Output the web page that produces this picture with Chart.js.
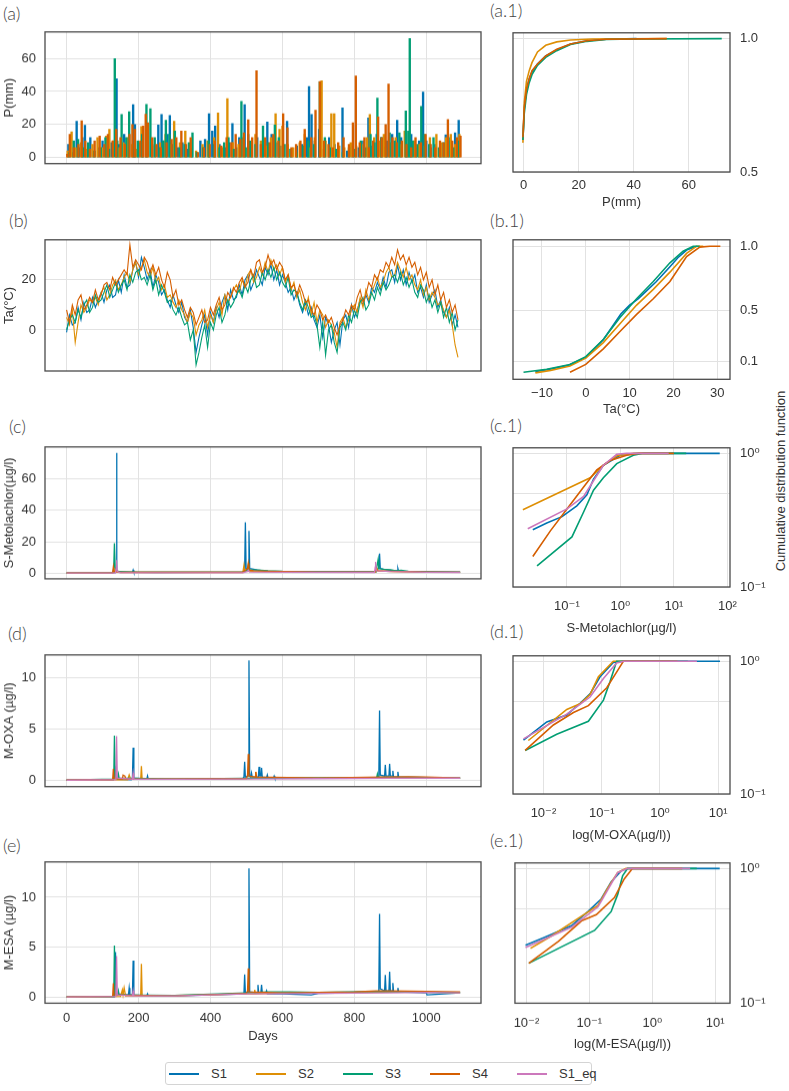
<!DOCTYPE html>
<html lang="en">
<head>
<meta charset="UTF-8">
<title>Sites S1-S4: forcing, concentrations and CDFs</title>
<script src="https://cdn.jsdelivr.net/npm/chart.js@4.4.0/dist/chart.umd.min.js"></script>
<style>
    body { margin: 0; width: 789px; height: 1091px; background: #fff; position: relative; overflow: hidden;
           font-family: 'Liberation Sans', Arial, sans-serif; color: #333; }
    .box { position: absolute; }
    .tag { position: absolute; font-family: Lato, 'Open Sans', sans-serif; font-weight: 300; font-size: 18px;
           line-height: 20px; color: #444; white-space: nowrap; }
    #cdf-title { position: absolute; left: 780px; top: 481px; transform: translate(-50%, -50%) rotate(-90deg);
                 white-space: nowrap; font-size: 13px; }
    #legend { position: absolute; left: 165px; top: 1062px; width: 427px; height: 23px; box-sizing: border-box;
              border: 1px solid #d4d4d4; border-radius: 3px; }
    .lg-item { position: absolute; top: 0; height: 21px; display: flex; align-items: center; font-size: 13px; }
    .lg-line { width: 30px; height: 2px; margin-right: 12px; }
</style>
</head>
<body>
<div class="tag" style="left:3px;top:3px">(a)</div>
<div class="tag" style="left:9px;top:210px">(b)</div>
<div class="tag" style="left:9px;top:416px">(c)</div>
<div class="tag" style="left:8px;top:623px">(d)</div>
<div class="tag" style="left:3px;top:835px">(e)</div>
<div class="tag" style="left:490px;top:0px">(a.1)</div>
<div class="tag" style="left:490px;top:210px">(b.1)</div>
<div class="tag" style="left:490px;top:415px">(c.1)</div>
<div class="tag" style="left:490px;top:621px">(d.1)</div>
<div class="tag" style="left:490px;top:830px">(e.1)</div>
<div id="cdf-title">Cumulative distribution function</div>
<div id="legend"></div>

<script>
// ---------------- data ----------------
const SERIES = ['S1', 'S2', 'S3', 'S4', 'S1_eq'];
const COLORS = ['#0173b2', '#de8f05', '#029e73', '#d55e00', '#cc78bc'];
const DAY_TICKS = [0, 200, 400, 600, 800, 1000];

// (a) daily precipitation, [day, mm] for the rainy days
const P_S1 = [[5,8],[18,3],[28,22],[35,6],[44,12],[51,19.5],[58,5],[66,12],[75,4],[88,6],[100,10],[112,7],[125,9],
    [139,47.6],[146,8],[160,14],[172,6],[185,32],[190,20],[200,9],[212,12],[222,21],[238,8],[255,19.6],[264,26],
    [270,10],[280,14],[287,25.4],[296,8],[310,6],[322,9],[335,5],[348,4],[372,10],[385,11],[396,26.5],[405,16],
    [413,19],[425,8],[440,6],[452,9],[461,20.6],[472,6],[480,12],[495,32],[505,14],[515,8],[530,12],[545,6],
    [558,21.5],[570,14],[583,9],[595,7],[613,22],[625,5],[640,7],[655,8],[668,12],[674,43],[681,26],[690,10],
    [702,17],[715,5],[730,12],[745,8],[756,6],[767,30],[780,4],[795,8],[812,6],[825,10],[839,24],[850,7],[862,14],
    [875,12],[890,10],[905,14],[919,22.5],[930,12],[945,8],[958,14],[970,6],[980,10],[991,39.6],[1000,10],
    [1012,6],[1025,8],[1040,5],[1054,13.8],[1068,10],[1080,15],[1090,22.5]];
const P_S2 = [[3,4],[14,15.6],[25,6],[40,9],[55,5],[72,8],[86,12],[98,6],[110,13],[119,17],[130,10],[145,6],
    [158,9],[170,12],[182,8],[195,5],[208,18.8],[225,10],[245,7],[260,9],[275,14],[290,8],[299,22],[315,9],
    [330,16],[345,6],[360,4],[378,8],[392,10],[410,12],[421,27],[435,6],[447,35.6],[462,9],[478,8],[490,12],
    [512,9],[525,14],[540,10],[555,7],[568,12],[581,26.5],[592,17],[600,19],[615,8],[630,6],[648,9],[662,14],
    [675,6],[690,12],[709,46.5],[720,10],[736,26.5],[744,26.5],[758,7],[772,6],[790,9],[805,7],[820,8],[835,12],
    [843,26],[855,12],[870,10],[882,14],[900,9],[915,12],[928,8],[940,16],[952,6],[966,10],[980,8],[995,7],
    [1010,12],[1028,14],[1042,9],[1055,12],[1068,14],[1080,8],[1092,14]];
const P_S3 = [[8,3],[20,10],[32,11],[45,6],[60,9],[78,4],[95,6],[108,12],[118,5],[134,59.8],[141,10],[153,26],
    [166,12],[174,27.8],[188,8],[198,10],[210,14],[222,32.2],[233,29.5],[245,12],[258,6],[268,10],[276,22.6],
    [286,14],[301,16],[315,6],[328,8],[340,9],[350,15],[362,3],[380,6],[395,10],[410,8],[425,6],[438,9],[450,12],
    [465,5],[486,34],[498,6],[510,10],[525,8],[546,19],[560,9],[579,19.7],[590,12],[606,8],[622,5],[640,3],
    [658,7],[672,10],[688,8],[704,45.8],[718,12],[732,6],[750,5],[768,3],[785,6],[800,5],[818,10],[830,6],
    [845,14],[856,9],[864,36],[875,12],[888,6],[898,15],[912,10],[925,15],[943,28.2],[950,16],[954,72],[962,10],
    [975,8],[986,31],[995,14],[1008,8],[1020,12],[1035,6],[1048,9],[1062,12],[1075,6],[1088,10]];
const P_S4 = [[2,2],[9,14],[20,6],[33,8],[42,22.2],[52,10],[65,5],[78,10],[92,13],[105,8],[115,14],[128,10],
    [138,17],[150,12],[162,8],[175,14],[183,20],[190,17],[205,10],[213,19],[220,26.2],[226,21],[238,12],[250,8],
    [262,6],[278,9],[292,11],[305,12],[319,16],[332,8],[345,12],[365,3],[382,6],[398,8],[412,10],[430,7],[445,12],
    [458,9],[470,14],[483,11],[493,15],[505,22.8],[516,12],[528,52.5],[540,8],[552,12],[565,9],[575,14],[589,10],
    [602,26.5],[614,18],[625,6],[638,8],[650,10],[662,17],[680,12],[692,28.7],[704,46],[716,10],[728,8],[740,6],
    [755,9],[770,12],[785,8],[796,21],[804,49.4],[815,9],[828,12],[840,6],[852,10],[866,24.5],[876,12],[887,20],
    [895,44.5],[906,12],[918,9],[932,10],[945,8],[958,6],[970,12],[985,9],[998,14],[1012,8],[1025,6],[1038,10],
    [1048,9],[1060,23],[1072,10],[1085,12],[1095,13]];

// (b) air temperature (deg C), one reading every TA_STEP days from day 0
const TA_STEP = 8;
const TA_S1 = [-1,6,2,3,9,4,11,7,8,13, 9,12,15,11,16,18,13,14,20,15, 22,17,18,24,27,21,29,25,20,24,
    17,22,19,14,16,12,9,14,10,7, 11,5,3,8,1,-9,-3,2,6,-2, 7,3,9,5,11,14,8,16,12,13,
    18,14,20,22,16,19,24,21,18,25, 22,26,20,24,18,22,19,15,17,12, 15,10,7,11,6,9,4,1,6,-3,
    5,2,-5,0,3,-6,4,6,1,10, 5,8,12,10,14,11,17,15,19,16, 21,17,23,24,19,26,20,24,18,23,
    19,22,15,17,13,18,11,14,16,9, 12,7,5,9,2,6,1];
const TA_S2 = [5,2,8,-5,3,10,7,9,12,11, 13,10,15,17,12,14,18,20,16,18, 21,23,19,24,27,22,25,28,23,21,
    25,19,21,16,18,13,14,11,9,12, 8,6,3,7,5,-2,2,4,8,1, 6,3,8,11,6,14,11,13,16,18,
    15,20,17,22,24,19,21,25,22,27, 23,28,24,26,22,25,19,22,16,19, 13,16,11,8,13,6,11,3,8,6,
    1,4,2,-1,-7,3,5,1,4,8, 10,7,13,9,16,12,15,18,21,17, 19,23,25,21,22,27,24,21,25,20,
    22,18,16,20,14,17,12,15,13,10, 11,8,5,8,2,-6,-11];
const TA_S3 = [0,4,6,3,8,5,10,12,7,9, 14,11,12,15,18,13,16,19,15,18, 20,16,22,19,23,24,20,21,18,22,
    16,20,14,18,15,11,12,8,6,9, 5,2,3,-4,0,-14,-9,-3,2,-7, 3,0,6,9,3,6,12,9,11,14,
    16,13,18,15,20,22,17,18,23,20, 24,21,25,20,23,19,17,21,14,16, 15,11,8,12,9,5,6,2,-7,3,
    -10,0,2,-5,-9,1,3,0,6,3, 8,5,11,13,8,10,15,12,17,14, 19,16,18,21,22,19,23,18,21,17,
    20,15,13,18,16,11,14,9,12,7, 11,5,9,3,7,0,4];
const TA_S4 = [8,3,10,6,12,14,8,10,13,11, 16,12,14,18,19,16,21,18,20,22, 24,22,34,25,28,26,24,29,27,23,
    26,22,25,20,17,23,20,13,16,10, 12,8,5,9,7,2,5,8,3,4, 9,6,10,13,8,10,15,13,17,15,
    19,21,17,19,24,21,27,28,23,25, 30,26,28,24,27,25,20,22,17,18, 14,18,15,11,12,8,6,10,8,4,
    6,3,5,1,-2,2,4,8,6,10, 8,13,16,11,14,19,17,22,20,24, 23,27,25,29,26,32,28,30,26,29,
    25,27,22,25,20,23,17,20,14,18, 12,15,9,12,7,10,4];

// (c) S-metolachlor, [day, ug/l]
const SMET_S1 = [[0,0.1],[128,0.1],[136,0.5],[138,2],[139,76.6],[140,1.5],[142,1],[150,0.8],[183,0.6],[185,2],
    [187,0.6],[250,0.5],[400,0.6],[490,0.8],[495,2],[497,32.3],[499,3],[505,2.5],[507,27],[509,3],[520,2.5],
    [530,2],[560,1.2],[600,1],[700,0.8],[860,0.7],[866,3],[868,6],[870,12.5],[872,3],[890,2],[919,1.5],[921,3],
    [923,1.2],[960,1],[1000,0.8],[1094,0.6]];
const SMET_S2 = [[0,0.05],[128,0.1],[132,1],[134,3],[136,0.8],[150,0.5],[300,0.5],[490,0.5],[493,5],[495,1.5],
    [520,1],[600,0.8],[860,0.8],[863,3],[866,1.5],[900,1],[1000,0.8],[1094,0.6]];
const SMET_S3 = [[0,0.1],[128,0.1],[131,3],[133,19],[135,4],[138,2],[145,1],[200,0.6],[490,0.6],[503,2],[505,5],
    [507,2],[530,2],[560,1.5],[600,1.2],[700,1],[860,1],[864,6],[866,8.7],[868,3],[880,2.5],[900,2.2],[915,1.5],
    [930,1.8],[950,1.2],[1000,1],[1094,0.8]];
const SMET_S4 = [[0,0.1],[128,0.1],[130,4],[132,1],[150,0.6],[490,0.6],[503,3],[505,6.2],[507,2],[520,1.5],
    [560,1.2],[700,0.8],[858,0.8],[861,3],[864,1.5],[900,1.2],[1000,0.8],[1094,0.6]];
const SMET_S1EQ = [[0,0.1],[136,0.1],[138,4],[139,8.3],[141,1],[150,0.3],[490,0.3],[503,1],[505,2],[508,0.8],
    [600,0.6],[856,0.5],[858,4],[859,7.2],[861,1.5],[900,1],[1000,0.6],[1094,0.5]];

// (d) M-OXA, [day, ug/l]
const OXA_S1 = [[0,0],[130,0],[135,1],[137,0.1],[180,0.05],[183,0.2],[185,3.16],[187,0.2],[223,0.1],[225,0.4],
    [227,0.1],[300,0.1],[400,0.12],[490,0.15],[493,0.3],[495,1.8],[497,0.3],[505,0.4],[507,11.67],[509,0.4],
    [512,0.3],[514,0.7],[516,0.3],[533,0.3],[535,1.3],[537,0.4],[540,0.4],[542,1.2],[544,0.3],[556,0.25],
    [558,0.5],[560,0.2],[575,0.2],[577,0.4],[579,0.2],[700,0.2],[866,0.22],[868,0.5],[870,6.78],[872,0.5],
    [884,0.4],[886,1.5],[888,0.4],[896,0.4],[898,1.6],[900,0.4],[905,0.4],[907,0.9],[909,0.3],[919,0.3],[921,0.8],
    [923,0.3],[1000,0.25],[1094,0.2]];
const OXA_S2 = [[0,0],[170,0.05],[174,0.5],[178,0.1],[206,0.1],[208,1.38],[210,0.1],[300,0.1],[500,0.15],
    [524,0.2],[526,0.8],[528,0.2],[700,0.2],[900,0.25],[1094,0.22]];
const OXA_S3 = [[0,0],[131,0.1],[133,4.34],[135,0.3],[142,0.2],[144,0.6],[146,0.2],[300,0.1],[500,0.18],
    [600,0.2],[700,0.2],[862,0.25],[864,0.6],[866,0.3],[1000,0.25],[1094,0.2]];
const OXA_S4 = [[0,0],[128,0.05],[130,1.1],[132,0.2],[155,0.1],[157,0.5],[162,0.4],[165,0.1],[300,0.1],
    [500,0.15],[503,0.5],[505,2.56],[507,0.4],[524,0.3],[526,0.8],[528,0.3],[700,0.22],[880,0.3],[950,0.32],
    [1000,0.3],[1094,0.22]];
const OXA_S1EQ = [[0,0],[137,0.05],[139,4.3],[141,0.2],[183,0.1],[185,0.7],[187,0.1],[300,0.08],[500,0.12],
    [700,0.15],[900,0.18],[1094,0.2]];

// (e) M-ESA, [day, ug/l]
const ESA_S1 = [[0,0],[133,0],[136,4.5],[138,0.3],[172,0.2],[174,0.9],[176,0.2],[183,0.2],[185,3.64],[187,0.2],
    [223,0.1],[225,0.3],[227,0.1],[300,0.1],[400,0.2],[493,0.3],[495,2.25],[497,0.4],[505,0.5],[507,12.9],
    [509,0.5],[530,0.4],[532,1.2],[534,0.4],[540,0.4],[542,1.2],[544,0.4],[554,0.4],[556,0.6],[558,0.3],
    [600,0.3],[680,0.2],[700,0.35],[800,0.4],[866,0.5],[868,0.8],[870,8.32],[872,0.8],[884,0.6],[886,2.2],
    [888,0.6],[896,0.6],[898,2.53],[900,0.6],[905,0.6],[907,1.4],[909,0.5],[919,0.5],[921,0.9],[923,0.5],
    [1000,0.4],[1002,0.2],[1094,0.4]];
const ESA_S2 = [[0,0],[150,0.05],[155,0.7],[157,0.2],[160,0.9],[164,0.1],[206,0.1],[208,3.32],[210,0.1],
    [300,0.15],[500,0.3],[521,0.3],[523,0.7],[525,0.3],[600,0.4],[800,0.45],[1000,0.5],[1094,0.4]];
const ESA_S3 = [[0,0],[131,0.05],[133,5.16],[135,0.3],[142,0.2],[144,0.6],[146,0.2],[300,0.15],[500,0.4],
    [560,0.5],[620,0.5],[700,0.45],[860,0.55],[1000,0.45],[1094,0.45]];
const ESA_S4 = [[0,0],[128,0.05],[130,1.36],[132,0.2],[300,0.1],[500,0.35],[503,0.6],[505,2.85],[507,0.5],
    [600,0.4],[800,0.5],[860,0.6],[900,0.6],[1000,0.55],[1094,0.5]];
const ESA_S1EQ = [[0,0],[137,0.05],[139,4.1],[141,0.2],[183,0.1],[185,0.6],[187,0.1],[300,0.1],[500,0.3],
    [700,0.35],[900,0.4],[1000,0.45],[1094,0.4]];

// right column: empirical CDFs, [value, F]
const CDF_P_S1 = [[-0.3,0.62],[0.2,0.74],[1,0.81],[2,0.85],[3,0.875],[5,0.905],[8,0.935],[12,0.958],[17,0.98],[23,0.992],[30,0.998],[41,1]];
const CDF_P_S2 = [[-0.3,0.61],[0.2,0.76],[1,0.84],[2,0.88],[3,0.91],[5,0.95],[8,0.975],[12,0.988],[17,0.995],[25,0.999],[52,1]];
const CDF_P_S3 = [[-0.3,0.62],[0.2,0.72],[1,0.79],[2,0.835],[3,0.865],[5,0.9],[8,0.93],[12,0.955],[17,0.978],[23,0.99],[30,0.997],[40,0.999],[72,1]];
const CDF_P_S4 = [[-0.3,0.63],[0.2,0.74],[1,0.81],[2,0.85],[3,0.88],[5,0.905],[8,0.935],[12,0.96],[17,0.98],[23,0.992],[30,0.998],[52,1]];

const CDF_TA_S1 = [[-11.5,0.02],[-8,0.04],[-4,0.07],[0,0.13],[4,0.27],[8,0.47],[10,0.54],[12,0.59],[16,0.72],[19.2,0.84],[21,0.91],[23,0.97],[25.3,1]];
const CDF_TA_S2 = [[-11.5,0.01],[-8,0.03],[-3.6,0.064],[0,0.125],[4,0.247],[7.8,0.394],[11.6,0.54],[15.4,0.663],[19.2,0.797],[23,0.944],[25.3,1],[26.8,1]];
const CDF_TA_S3 = [[-14.2,0.015],[-8.9,0.039],[-3.6,0.076],[0,0.137],[4,0.271],[7.8,0.443],[11.6,0.589],[15.4,0.724],[19.2,0.87],[22.2,0.961],[24.5,1],[26,1]];
const CDF_TA_S4 = [[-3.6,0.015],[0,0.076],[4,0.198],[7.8,0.333],[11.6,0.467],[15.4,0.589],[19.2,0.724],[23,0.919],[26,0.993],[28.3,1],[30.7,1]];

const CDF_SMET_S1 = [[0.023,0.268],[0.042,0.301],[0.081,0.336],[0.153,0.405],[0.236,0.489],[0.314,0.64],[0.48,0.815],[0.99,0.968],[2,1],[72,1]];
const CDF_SMET_S2 = [[0.015,0.378],[0.272,0.657],[0.48,0.815],[0.855,0.958],[1.74,1],[8,1]];
const CDF_SMET_S3 = [[0.0276,0.144],[0.124,0.237],[0.205,0.364],[0.314,0.53],[0.48,0.657],[0.855,0.838],[1.74,0.968],[2.69,1],[17,1]];
const CDF_SMET_S4 = [[0.023,0.169],[0.049,0.263],[0.1,0.384],[0.205,0.56],[0.362,0.752],[0.641,0.884],[1.31,0.968],[2.3,1],[10,1]];
const CDF_SMET_S1EQ = [[0.0185,0.273],[0.1,0.384],[0.205,0.476],[0.314,0.623],[0.48,0.815],[0.855,0.984],[1.31,1],[8,1]];

const CDF_OXA_S1 = [[0.00454,0.255],[0.0114,0.349],[0.0251,0.394],[0.0425,0.483],[0.063,0.568],[0.0936,0.764],[0.158,0.98],[0.235,1],[10.7,1]];
const CDF_OXA_S2 = [[0.0055,0.253],[0.0251,0.434],[0.0425,0.478],[0.063,0.562],[0.0877,0.764],[0.158,1],[1.5,1]];
const CDF_OXA_S3 = [[0.00485,0.213],[0.0169,0.282],[0.059,0.353],[0.107,0.51],[0.139,0.705],[0.18,1],[3,1]];
const CDF_OXA_S4 = [[0.00485,0.213],[0.0148,0.331],[0.0327,0.411],[0.059,0.463],[0.122,0.632],[0.18,0.828],[0.235,1],[2,1]];
const CDF_OXA_S1EQ = [[0.00454,0.26],[0.0251,0.4],[0.063,0.538],[0.107,0.743],[0.18,0.973],[0.24,1],[4.3,1]];

const CDF_ESA_S1 = [[0.00965,0.269],[0.0224,0.317],[0.052,0.376],[0.0953,0.479],[0.154,0.593],[0.222,0.795],[0.318,0.958],[0.405,1],[11.8,1]];
const CDF_ESA_S2 = [[0.0116,0.255],[0.0253,0.317],[0.0748,0.442],[0.137,0.532],[0.196,0.714],[0.282,0.933],[0.381,1],[3,1]];
const CDF_ESA_S3 = [[0.0109,0.198],[0.121,0.347],[0.222,0.479],[0.282,0.642],[0.338,0.884],[0.405,1],[5.1,1]];
const CDF_ESA_S4 = [[0.0109,0.198],[0.0322,0.288],[0.0748,0.408],[0.129,0.454],[0.25,0.608],[0.359,0.838],[0.485,1],[3,1]];
const CDF_ESA_S1EQ = [[0.00965,0.259],[0.052,0.366],[0.137,0.519],[0.196,0.695],[0.282,0.933],[0.405,1],[4,1]];

// ---------------- drawing ----------------
const GRID = '#e2e2e2';
const TXT = '#333';
const FONT = { family: "'Liberation Sans', 'DejaVu Sans', Arial, sans-serif", size: 13 };
const SUP = { '-': '\u207B', '0': '\u2070', '1': '\u00B9', '2': '\u00B2', '3': '\u00B3' };

function pow10(v) {
    const e = String(Math.round(Math.log10(v)));
    return '10' + e.split('').map(c => SUP[c]).join('');
}
function num(v) { return v < 0 ? '\u2212' + Math.abs(v) : String(v); }

// box round every plot area
const frame = {
    id: 'frame',
    afterDraw(chart) {
        const a = chart.chartArea, ctx = chart.ctx;
        ctx.save();
        ctx.strokeStyle = '#4a4a4a';
        ctx.lineWidth = 1.3;
        ctx.strokeRect(a.left, a.top, a.right - a.left, a.bottom - a.top);
        ctx.restore();
    }
};

function place(left, top, width, height) {
    const div = document.createElement('div');
    div.className = 'box';
    div.style.left = left + 'px';
    div.style.top = top + 'px';
    div.style.width = width + 'px';
    div.style.height = height + 'px';
    const cv = document.createElement('canvas');
    div.appendChild(cv);
    document.body.appendChild(div);
    return cv;
}

function setTicks(values) {
    return s => { s.ticks = values.map(v => ({ value: v })); };
}

function lineSet(i, pts, width) {
    return {
        label: SERIES[i], data: pts.map(p => ({ x: p[0], y: p[1] })),
        borderColor: COLORS[i], backgroundColor: COLORS[i], borderWidth: width,
        pointRadius: 0, tension: 0, order: SERIES.length - i
    };
}

function baseOptions(pad, xs, ys) {
    return {
        animation: false, responsive: true, maintainAspectRatio: false,
        layout: { padding: pad },
        plugins: { legend: { display: false }, tooltip: { enabled: false } },
        scales: { x: xs, y: ys }
    };
}

// left column: time series against days
function timeChart(top, bottom, type, datasets, yMin, yMax, yTicks, yTitle, showDays) {
    const xh = showDays ? 41 : 0;
    const padB = showDays ? 0 : 8;
    const cv = place(0, top - 8, 489, bottom - top + 8 + xh + padB);
    const xs = {
        type: 'linear', min: -60, max: 1152, offset: false,
        grid: { color: GRID, drawTicks: false, offset: false }, border: { display: false },
        ticks: { display: showDays, padding: 7, font: FONT, color: TXT, callback: num },
        afterBuildTicks: setTicks(DAY_TICKS),
        afterFit: s => { s.height = xh; },
        title: { display: showDays, text: 'Days', font: FONT, color: TXT, padding: 0 }
    };
    const ys = {
        type: 'linear', min: yMin, max: yMax,
        grid: { color: GRID, drawTicks: false }, border: { display: false },
        ticks: { padding: 9, font: FONT, color: TXT, callback: num },
        afterBuildTicks: setTicks(yTicks),
        afterFit: s => { s.width = 45; },
        title: { display: true, text: yTitle, font: FONT, color: TXT, padding: { top: 2, bottom: 0 } }
    };
    return new Chart(cv, {
        type: type, data: { datasets: datasets },
        options: baseOptions({ top: 8, right: 8, bottom: padB, left: 0 }, xs, ys),
        plugins: [frame]
    });
}

// right column: CDFs, y axis on the right
function cdfChart(top, bottom, datasets, xc, yc) {
    const xh = xc.log ? 49 : 38;
    const cv = place(501, top - 8, 279, bottom - top + 8 + xh);
    const xs = {
        type: xc.log ? 'logarithmic' : 'linear', min: xc.min, max: xc.max,
        grid: { color: GRID, drawTicks: false }, border: { display: false },
        ticks: { padding: xc.log ? 12 : 6, font: FONT, color: TXT, maxRotation: 0,
                 callback: xc.log ? pow10 : num },
        afterBuildTicks: setTicks(xc.ticks),
        afterFit: s => { s.height = xh; },
        title: { display: true, text: xc.title, font: FONT, color: TXT, padding: 0 }
    };
    const ys = {
        type: yc.log ? 'logarithmic' : 'linear', position: 'right', min: yc.min, max: yc.max,
        grid: { color: GRID, drawTicks: false }, border: { display: false },
        ticks: { padding: 10, font: FONT, color: TXT,
                 callback: yc.log ? (v => v === 0.5 ? '' : pow10(v)) : (v => v.toFixed(1)) },
        afterBuildTicks: setTicks(yc.ticks),
        afterFit: s => { s.width = 50; }
    };
    return new Chart(cv, {
        type: 'line', data: { datasets: datasets },
        options: baseOptions({ top: 8, right: 0, bottom: 0, left: 12 }, xs, ys),
        plugins: [frame]
    });
}

function barSet(i, pts) {
    return {
        label: SERIES[i], data: pts.map(p => ({ x: p[0], y: p[1] })),
        backgroundColor: COLORS[i], borderWidth: 0, barThickness: 1.7, grouped: false,
        order: SERIES.length - i
    };
}
function taSet(i, vals) {
    return lineSet(i, vals.map((v, k) => [k * TA_STEP, v]), 1.1);
}

// (a) precipitation
timeChart(23, 171.5, 'bar',
    [barSet(0, P_S1), barSet(1, P_S2), barSet(2, P_S3), barSet(3, P_S4)],
    -3.7, 76, [0, 20, 40, 60], 'P(mm)', false);
// (b) air temperature
timeChart(230.5, 379.3, 'line',
    [taSet(0, TA_S1), taSet(1, TA_S2), taSet(2, TA_S3), taSet(3, TA_S4)],
    -16.4, 36, [0, 20], 'Ta(\u00B0C)', false);
// (c) S-metolachlor
timeChart(438, 586.7, 'line',
    [lineSet(0, SMET_S1, 1.3), lineSet(1, SMET_S2, 1.3), lineSet(2, SMET_S3, 1.3), lineSet(3, SMET_S4, 1.3), lineSet(4, SMET_S1EQ, 1.3)],
    -3.6, 80.4, [0, 20, 40, 60], 'S-Metolachlor(\u00B5g/l)', false);
// (d) M-OXA
timeChart(646, 794.5, 'line',
    [lineSet(0, OXA_S1, 1.3), lineSet(1, OXA_S2, 1.3), lineSet(2, OXA_S3, 1.3), lineSet(3, OXA_S4, 1.3), lineSet(4, OXA_S1EQ, 1.3)],
    -0.63, 12.2, [0, 5, 10], 'M-OXA (\u00B5g/l)', false);
// (e) M-ESA
timeChart(853.3, 1002.7, 'line',
    [lineSet(0, ESA_S1, 1.3), lineSet(1, ESA_S2, 1.3), lineSet(2, ESA_S3, 1.3), lineSet(3, ESA_S4, 1.3), lineSet(4, ESA_S1EQ, 1.3)],
    -0.64, 13.55, [0, 5, 10], 'M-ESA (\u00B5g/l)', true);

const LOG_Y = { log: true, min: 0.1, max: 1.1, ticks: [0.1, 0.5, 1] };

// (a.1)
cdfChart(22.7, 171.7,
    [lineSet(0, CDF_P_S1, 1.6), lineSet(1, CDF_P_S2, 1.6), lineSet(2, CDF_P_S3, 1.6), lineSet(3, CDF_P_S4, 1.6)],
    { log: false, min: -3.9, max: 75, ticks: [0, 20, 40, 60], title: 'P(mm)' },
    { log: false, min: 0.5, max: 1.022, ticks: [0.5, 1] });
// (b.1)
cdfChart(230, 379.3,
    [lineSet(0, CDF_TA_S1, 1.6), lineSet(1, CDF_TA_S2, 1.6), lineSet(2, CDF_TA_S3, 1.6), lineSet(3, CDF_TA_S4, 1.6)],
    { log: false, min: -16.6, max: 32.9, ticks: [-10, 0, 10, 20, 30], title: 'Ta(\u00B0C)' },
    { log: false, min: -0.04, max: 1.05, ticks: [0.1, 0.5, 1] });
// (c.1)
cdfChart(437.7, 586.7,
    [lineSet(0, CDF_SMET_S1, 1.6), lineSet(1, CDF_SMET_S2, 1.6), lineSet(2, CDF_SMET_S3, 1.6), lineSet(3, CDF_SMET_S4, 1.6), lineSet(4, CDF_SMET_S1EQ, 1.6)],
    { log: true, min: 0.0098, max: 112, ticks: [0.1, 1, 10, 100], title: 'S-Metolachlor(\u00B5g/l)' },
    LOG_Y);
// (d.1)
cdfChart(646, 794,
    [lineSet(0, CDF_OXA_S1, 1.6), lineSet(1, CDF_OXA_S2, 1.6), lineSet(2, CDF_OXA_S3, 1.6), lineSet(3, CDF_OXA_S4, 1.6), lineSet(4, CDF_OXA_S1EQ, 1.6)],
    { log: true, min: 0.003, max: 15.9, ticks: [0.01, 0.1, 1, 10], title: 'log(M-OXA(\u00B5g/l))' },
    LOG_Y);
// (e.1)
cdfChart(853.3, 1002.7,
    [lineSet(0, CDF_ESA_S1, 1.6), lineSet(1, CDF_ESA_S2, 1.6), lineSet(2, CDF_ESA_S3, 1.6), lineSet(3, CDF_ESA_S4, 1.6), lineSet(4, CDF_ESA_S1EQ, 1.6)],
    { log: true, min: 0.00656, max: 17.2, ticks: [0.01, 0.1, 1, 10], title: 'log(M-ESA(\u00B5g/l))' },
    LOG_Y);

// shared legend
const legend = document.getElementById('legend');
SERIES.forEach((name, i) => {
    const item = document.createElement('div');
    item.className = 'lg-item';
    item.style.left = (3 + 87 * i) + 'px';
    const sw = document.createElement('span');
    sw.className = 'lg-line';
    sw.style.background = COLORS[i];
    const tx = document.createElement('span');
    tx.textContent = name;
    item.appendChild(sw);
    item.appendChild(tx);
    legend.appendChild(item);
});
</script>
</body>
</html>
